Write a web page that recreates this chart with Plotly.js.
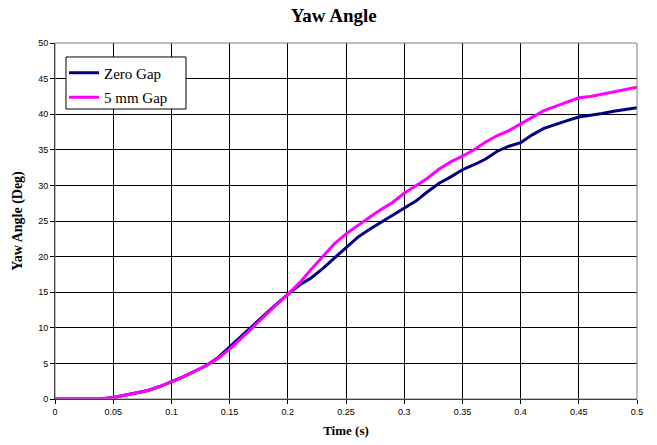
<!DOCTYPE html>
<html>
<head>
<meta charset="utf-8">
<script src="https://cdn.plot.ly/plotly-3.0.1.min.js"></script>
<style>html,body{margin:0;padding:0;background:#fff;}#chart{width:657px;height:445px;}</style>
</head>
<body>
<div id="chart"></div>
<script>
const time = [0,0.01,0.02,0.03,0.04,0.05,0.06,0.07,0.08,0.09,0.10,0.11,0.12,0.13,0.14,0.15,0.16,0.17,0.18,0.19,0.20,0.21,0.22,0.23,0.24,0.25,0.26,0.27,0.28,0.29,0.30,0.31,0.32,0.33,0.34,0.35,0.36,0.37,0.38,0.39,0.40,0.41,0.42,0.43,0.44,0.45,0.46,0.47,0.48,0.49,0.50];
const zeroGap = [0,0,0,0,0.05,0.2,0.55,0.85,1.2,1.75,2.4,3.1,3.9,4.7,5.8,7.3,8.9,10.4,11.8,13.3,14.7,16.0,17.0,18.3,19.8,21.3,22.7,23.8,24.8,25.8,26.7,27.8,29.1,30.3,31.2,32.2,32.9,33.7,34.8,35.5,36.0,37.1,38.0,38.6,39.1,39.6,39.8,40.1,40.4,40.7,40.9];
const gap5mm = [0,0,0,0,0.05,0.2,0.55,0.85,1.2,1.75,2.4,3.1,3.9,4.7,5.7,7.0,8.5,10.1,11.6,13.2,14.7,16.3,18.2,20.0,21.8,23.2,24.4,25.5,26.6,27.6,28.9,29.9,31.0,32.3,33.3,34.1,35.0,36.1,37.0,37.7,38.6,39.6,40.5,41.1,41.7,42.3,42.5,42.8,43.1,43.5,43.8];
const seriesNames = ["Zero Gap", "5 mm Gap"];

const traces = [
  {x: time, y: zeroGap, name: seriesNames[0], type: 'scatter', mode: 'lines', legendgroup: 'a',
   line: {color: '#000080', width: 3}},
  {x: time, y: gap5mm, name: seriesNames[1], type: 'scatter', mode: 'lines', legendgroup: 'b',
   line: {color: '#FF00FF', width: 3}}
];

const layout = {
  width: 657, height: 445,
  margin: {l: 55, r: 20, t: 43, b: 46},
  paper_bgcolor: '#fff', plot_bgcolor: '#fff',
  title: {text: 'Yaw Angle', font: {family: 'Liberation Serif', size: 19, color: '#000', weight: 'bold'},
          x: 0.479, xref: 'paper', xanchor: 'center', y: 1, yref: 'container', yanchor: 'top', pad: {t: 9}},
  xaxis: {range: [0, 0.5], dtick: 0.05, tick0: 0, showgrid: true, gridcolor: '#000', gridwidth: 1,
          zeroline: false, showline: true, linecolor: '#000', linewidth: 1,
          ticks: 'outside', ticklen: 4, tickcolor: '#000',
          tickfont: {family: 'Liberation Sans', size: 9, color: '#000'},
          title: {text: 'Time (s)', font: {family: 'Liberation Serif', size: 13, color: '#000', weight: 'bold'}, standoff: 10},
          fixedrange: true},
  yaxis: {range: [0, 50], dtick: 5, tick0: 0, showgrid: true, gridcolor: '#000', gridwidth: 1,
          zeroline: false, showline: true, linecolor: '#000', linewidth: 1,
          ticks: 'outside', ticklen: 4, tickcolor: '#000',
          tickfont: {family: 'Liberation Sans', size: 9, color: '#000'},
          title: {text: 'Yaw Angle (Deg)', font: {family: 'Liberation Serif', size: 14, color: '#000', weight: 'bold'}, standoff: 12},
          fixedrange: true},
  shapes: [
    {type: 'rect', xref: 'paper', yref: 'paper', x0: 0, x1: 1, y0: 0, y1: 1,
     line: {color: '#808080', width: 1}, fillcolor: 'rgba(0,0,0,0)', layer: 'above'},
    {type: 'rect', xref: 'paper', yref: 'paper', x0: 0.0189, x1: 0.2251, y0: 0.8146, y1: 0.9607,
     line: {color: '#000', width: 1}, fillcolor: '#fff', layer: 'above'}
  ],
  legend: {x: 0.0155, y: 0.962, xanchor: 'left', yanchor: 'top', bgcolor: 'rgba(0,0,0,0)',
           borderwidth: 0, tracegroupgap: 2,
           font: {family: 'Liberation Serif', size: 15, color: '#000'}},
  showlegend: true
};

Plotly.newPlot('chart', traces, layout, {displayModeBar: false, staticPlot: true});
</script>
</body>
</html>
